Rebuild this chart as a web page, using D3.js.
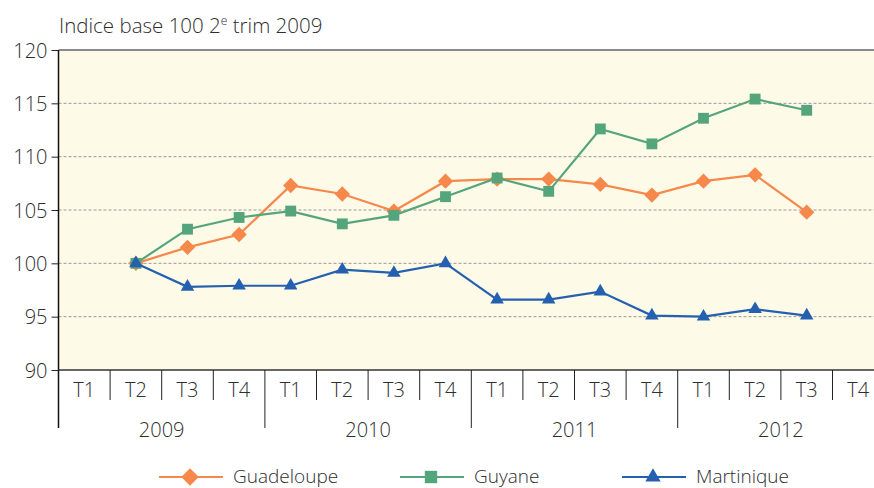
<!DOCTYPE html>
<html><head><meta charset="utf-8">
<script src="https://cdn.jsdelivr.net/npm/d3@7"></script>
<style>body{margin:0;background:#fff;overflow:hidden}svg{display:block}text{font-family:"Open Sans",Lato,sans-serif;fill:#2e2e2e;font-weight:300}</style>
</head><body>
<svg id="c" width="874" height="488"></svg>
<script>
const years = ["2009","2010","2011","2012"];
const quarters = ["T1","T2","T3","T4"];
const yTicks = [90,95,100,105,110,115,120];
const guadeloupe = [null,100,101.5,102.7, 107.3,106.5,104.9,107.7, 107.9,107.9,107.4,106.4, 107.7,108.3,104.8,null];
const guyane     = [null,100,103.2,104.3, 104.9,103.7,104.5,106.25, 108.0,106.75,112.6,111.2, 113.6,115.4,114.35,null];
const martinique = [null,100,97.8,97.9, 97.9,99.4,99.1,100.0, 96.6,96.6,97.35,95.1, 95.0,95.7,95.1,null];
const seriesNames = ["Guadeloupe","Guyane","Martinique"];

const colors = {Guadeloupe:"#F5884A", Guyane:"#55A57C", Martinique:"#2460AF"};
const symbols = {Guadeloupe:d3.symbolDiamond2, Guyane:d3.symbolSquare2, Martinique:d3.symbolTriangle2};
const symSize = {Guadeloupe:150, Guyane:150, Martinique:130};
const FONT = "Open Sans";

const svg = d3.select("#c");
const L = 58.5, T = 50, B = 370, band = 51.6;
const slots = [];
years.forEach(y => quarters.forEach(q => slots.push(y+"-"+q)));
const x = d3.scaleBand().domain(slots).range([L, L + band*slots.length]);
const y = d3.scaleLinear().domain([90,120]).range([B, T]);
const xc = i => x(slots[i]) + x.bandwidth()/2;

svg.append("rect").attr("x", L).attr("y", T).attr("width", band*slots.length).attr("height", B-T).attr("fill", "#FEFAE8");

svg.append("g").selectAll("line").data(yTicks.filter(v => v>90 && v<120)).join("line")
  .attr("x1", L).attr("x2", 874).attr("y1", d => y(d)).attr("y2", d => y(d))
  .attr("stroke", "#9a9a9a").attr("stroke-width", 1).attr("stroke-dasharray", "3,2");

svg.append("line").attr("x1", L).attr("x2", 874).attr("y1", T).attr("y2", T).attr("stroke", "#8a8a8a").attr("stroke-width", 2);

const yAxis = d3.axisLeft(y).tickValues(yTicks).tickSize(7).tickPadding(4);
const gy = svg.append("g").attr("transform", `translate(${L},0)`).call(yAxis);
gy.select(".domain").remove();
gy.selectAll(".tick line").attr("stroke", "#222");
gy.selectAll(".tick text").attr("font-size", 20).attr("font-family", FONT).attr("font-weight", 300).attr("fill", "#2e2e2e").attr("dy", "0.35em");
svg.append("line").attr("x1", L).attr("x2", L).attr("y1", T).attr("y2", 428).attr("stroke", "#111").attr("stroke-width", 1.5);

svg.append("line").attr("x1", L).attr("x2", 874).attr("y1", B).attr("y2", B).attr("stroke", "#333").attr("stroke-width", 1.5);
const xg = svg.append("g");
slots.forEach((s, i) => {
  const isYear = i % 4 === 0;
  if (i > 0) xg.append("line").attr("x1", x(s)).attr("x2", x(s)).attr("y1", B).attr("y2", isYear ? 428 : 400)
    .attr("stroke", "#222").attr("stroke-width", 1);
  xg.append("text").attr("x", xc(i)).attr("y", 397).attr("text-anchor", "middle").attr("font-size", 20).text(quarters[i % 4]);
});
years.forEach((yr, k) => {
  const cx = (x(slots[k*4]) + x(slots[k*4+3]) + x.bandwidth())/2;
  xg.append("text").attr("x", cx).attr("y", 437).attr("text-anchor", "middle").attr("font-size", 20).text(yr);
});

const title = svg.append("text").attr("x", 59).attr("y", 33).attr("font-size", 20.5);
title.append("tspan").text("Indice base 100 2");
title.append("tspan").attr("font-size", 12).attr("dy", -8).text("e");
title.append("tspan").attr("dy", 8).text(" trim 2009");

const data = {Guadeloupe: guadeloupe, Guyane: guyane, Martinique: martinique};
const line = d3.line().defined(d => d.v != null).x(d => xc(d.i)).y(d => y(d.v));
seriesNames.forEach(name => {
  const pts = data[name].map((v, i) => ({v, i}));
  svg.append("path").datum(pts).attr("d", line).attr("fill", "none").attr("stroke", colors[name]).attr("stroke-width", 2.2);
  svg.append("g").selectAll("path").data(pts.filter(d => d.v != null)).join("path")
    .attr("d", d3.symbol().type(symbols[name]).size(symSize[name]))
    .attr("transform", d => `translate(${xc(d.i)},${y(d.v)})`)
    .attr("fill", colors[name]);
});

const legendPos = {Guadeloupe:159, Guyane:400, Martinique:622};
seriesNames.forEach(name => {
  const lx = legendPos[name], ly = 477;
  svg.append("line").attr("x1", lx).attr("x2", lx+64).attr("y1", ly).attr("y2", ly).attr("stroke", colors[name]).attr("stroke-width", 2.2);
  svg.append("path").attr("d", d3.symbol().type(symbols[name]).size(symSize[name]*1.3)).attr("transform", `translate(${lx+31},${ly})`).attr("fill", colors[name]);
  svg.append("text").attr("x", lx+74).attr("y", 482.5).attr("font-size", 19).text(name);
});
</script>
</body></html>
